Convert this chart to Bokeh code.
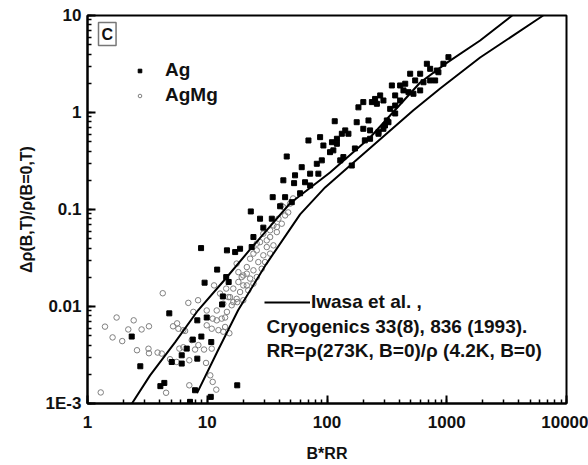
from bokeh.plotting import figure
from bokeh.models import Legend, LegendItem, Label, CustomJSTickFormatter, LogTicker
from bokeh.embed import file_html
from bokeh.resources import INLINE

# ---- data ----
ag_x = [8.88, 14.6, 17.1, 18.8, 12.1, 9.5, 15.1, 13.5, 13.3, 4.82, 2.34, 2.76, 4.06, 4.38, 5.05,
        6.12, 6.12, 6.74, 7.57, 8.26, 8.93, 9.9, 8.26, 10.8, 7.18, 10.7, 17.8, 7.91, 14.4,
        70.0, 93.3, 121, 106, 46.1, 61.5, 82.2, 90.5, 72.3, 84.7, 54.1, 43.2, 53.1, 65.6, 35.2,
        44.7, 50.8, 40.6, 23.1, 27.6, 34.6, 29.4, 24.3, 23.5,
        682, 727, 938, 852, 600, 545, 495, 639, 727, 450, 408, 348, 435, 479, 527, 371, 278,
        252, 296, 261, 237, 201, 183, 371, 337, 408, 116, 177, 222, 201, 229, 142, 151, 133,
        121, 110, 326, 296, 269, 137, 161, 113, 826, 1033, 87.6,
        59.6, 72.3, 129, 171, 207, 305, 371, 600, 800, 316, 269, 229]
ag_y = [0.040, 0.0379, 0.0364, 0.0394, 0.024, 0.0176, 0.0179, 0.0127, 0.0105, 0.0085, 0.0049,
        0.00242, 0.00151, 0.00163, 0.00268, 0.00258, 0.00314, 0.00368, 0.00456, 0.0029, 0.0049,
        0.0077, 0.0072, 0.0043, 0.00104, 0.00117, 0.00154, 0.00137, 0.0201,
        0.515, 0.457, 0.476, 0.390, 0.352, 0.273, 0.296, 0.321, 0.234, 0.234, 0.225, 0.200,
        0.187, 0.191, 0.134, 0.134, 0.119, 0.108, 0.0955, 0.0804, 0.0804, 0.065, 0.052, 0.041,
        3.18, 2.82, 3.18, 2.60, 2.51, 2.14, 2.51, 2.05, 2.14, 1.98, 1.90, 1.90, 1.69, 1.62, 1.56,
        1.50, 1.50, 1.38, 1.33, 1.23, 1.28, 1.28, 1.13, 1.18, 1.09, 1.33, 0.813, 0.794, 0.828,
        0.679, 0.654, 0.654, 0.604, 0.604, 0.536, 0.494, 0.794, 0.679, 0.604, 0.347, 0.284,
        0.407, 2.71, 3.72, 0.557,
        0.147, 0.177, 0.321, 0.426, 0.516, 0.735, 0.977, 1.69, 2.14, 0.828, 0.627, 0.536]

agmg_x = [1.29, 1.40, 1.75, 1.62, 1.95, 2.19, 2.43, 2.59, 2.83, 3.26, 3.23, 3.26, 3.85, 4.25,
          4.53, 5.18, 5.60, 6.53, 5.74, 4.89, 5.56, 7.08, 5.85, 7.08, 6.95, 8.38, 11.4, 12.8,
          14.4, 15.0, 16.5, 18.8, 20.0, 19.4, 21.4, 18.2, 17.8, 7.65, 9.9, 11.1, 12.0, 14.1,
          9.9, 10.9, 12.4, 13.6, 15.3, 14.1, 6.31, 7.42, 8.43, 9.4, 7.91, 10.9, 6.31, 4.17,
          9.77, 10.6, 11.1, 11.9,
          29.4, 33.5, 38.1, 35.7, 41.9, 39.3, 44.7, 43.2, 49.2, 27.6, 31.4, 35.7, 25.9, 29.4,
          33.5, 22.8, 26.7, 30.4, 21.4, 24.3, 28.5, 20.0, 22.8, 25.9, 18.2, 21.4, 24.3, 16.5,
          22.0, 15.5, 17.6, 20.0, 13.6, 16.0, 12.0, 14.6, 13.2, 24.3, 31.4, 38.1, 33.5, 25.9,
          47.4, 52.1, 41.5, 17.6]
agmg_y = [0.00130, 0.0062, 0.0077, 0.0048, 0.0044, 0.0058, 0.0072, 0.00354, 0.0058, 0.00625,
          0.00367, 0.0033, 0.00335, 0.0137, 0.00129, 0.00625, 0.0067, 0.0056, 0.0059, 0.00286,
          0.00268, 0.00279, 0.00368, 0.00154, 0.0109, 0.0116, 0.0165, 0.0136, 0.0153, 0.0125,
          0.0111, 0.0141, 0.0165, 0.0201, 0.0218, 0.0226, 0.0111, 0.0088, 0.0091, 0.0075,
          0.0072, 0.0077, 0.0064, 0.0059, 0.0057, 0.0055, 0.0053, 0.00615, 0.0057, 0.0045,
          0.0040, 0.0036, 0.0036, 0.00368, 0.0038, 0.00327, 0.00262, 0.00195, 0.00167, 0.00139,
          0.0563, 0.052, 0.0585, 0.0686, 0.0714, 0.0804, 0.0869, 0.106, 0.115, 0.0461, 0.041,
          0.0427, 0.0379, 0.0337, 0.0351, 0.0311, 0.0287, 0.0287, 0.0255, 0.0236, 0.0245,
          0.0209, 0.0194, 0.0201, 0.0179, 0.0165, 0.0172, 0.0153, 0.0147, 0.0125, 0.0120,
          0.0116, 0.0107, 0.0103, 0.0091, 0.0088, 0.0075, 0.0351, 0.0481, 0.066, 0.061, 0.0445,
          0.0933, 0.130, 0.11, 0.0277]

iwasa_a_x = [2.35, 3.33, 5.38, 8.38, 14.1, 22.8, 33.5, 49.2, 106, 229, 408, 600, 1007, 1900, 3520]
iwasa_a_y = [0.001, 0.00195, 0.00427, 0.00914, 0.0191, 0.0388, 0.067, 0.116, 0.241, 0.553, 1.21,
             2.04, 3.27, 5.52, 10.0]
iwasa_b_x = [8.22, 12.3, 18.1, 31.0, 59.6, 96.4, 156, 524, 881, 1900, 6030, 6380]
iwasa_b_y = [0.00128, 0.00354, 0.00914, 0.0272, 0.0891, 0.169, 0.284, 1.05, 1.77, 3.69, 9.53, 10.0]

x_tick_labels = {"0": "1", "1": "10", "2": "100", "3": "1000", "4": "10000"}
y_tick_labels = {"-3": "1E-3", "-2": "0.01", "-1": "0.1", "0": "1", "1": "10"}

FONT = "Liberation Sans"
INK = "#111111"

p = figure(width=588, height=465, x_axis_type="log", y_axis_type="log",
           x_range=(1, 10000), y_range=(0.001, 10),
           output_backend="svg", toolbar_location=None,
           min_border_left=87, min_border_right=22, min_border_top=15, min_border_bottom=62,
           background_fill_color="white", border_fill_color="white")

p.xgrid.visible = False
p.ygrid.visible = False
p.outline_line_color = "black"
p.outline_line_width = 2

for ax in (p.xaxis[0], p.yaxis[0]):
    ax.ticker = LogTicker(num_minor_ticks=10)
    ax.major_tick_in = 8
    ax.major_tick_out = 0
    ax.minor_tick_in = 4
    ax.minor_tick_out = 0
    ax.axis_line_width = 2
    ax.major_tick_line_width = 2
    ax.minor_tick_line_width = 1.5
    ax.major_label_text_font = FONT
    ax.major_label_text_font_style = "bold"
    ax.major_label_text_font_size = "17px"
    ax.major_label_text_color = INK
    ax.axis_label_text_font = FONT
    ax.axis_label_text_font_style = "bold"
    ax.axis_label_text_font_size = "16px"
    ax.axis_label_text_color = INK

p.xaxis[0].formatter = CustomJSTickFormatter(
    args=dict(labels=x_tick_labels),
    code="const k = String(Math.round(Math.log10(tick))); return labels[k] || '';")
p.yaxis[0].formatter = CustomJSTickFormatter(
    args=dict(labels=y_tick_labels),
    code="const k = String(Math.round(Math.log10(tick))); return labels[k] || '';")
p.xaxis[0].axis_label = "B*RR"
p.yaxis[0].axis_label = "Δρ(B,T)/ρ(B=0,T)"
p.xaxis[0].major_label_standoff = 12
p.xaxis[0].axis_label_standoff = 14
p.yaxis[0].major_label_standoff = 6
p.yaxis[0].axis_label_standoff = 8

r_agmg = p.scatter(agmg_x, agmg_y, marker="circle", size=5.5, line_color="#808080",
                   fill_color=None, line_width=1)
r_ag = p.scatter(ag_x, ag_y, marker="square", size=5, line_color="black", fill_color="black")
r_a = p.line(iwasa_a_x, iwasa_a_y, line_color="black", line_width=2)
r_b = p.line(iwasa_b_x, iwasa_b_y, line_color="black", line_width=2)

leg1 = Legend(items=[LegendItem(label="Ag", renderers=[r_ag]),
                     LegendItem(label="AgMg", renderers=[r_agmg])],
              location=(48, 297), glyph_width=9, glyph_height=9, label_standoff=21,
              spacing=3, padding=0, margin=0, background_fill_alpha=0, border_line_alpha=0,
              label_text_font=FONT, label_text_font_style="bold", label_text_font_size="19px",
              label_text_color=INK)
p.add_layout(leg1)

leg2 = Legend(items=[LegendItem(label="Iwasa et al. ,", renderers=[r_a])],
              location=(177, 90), glyph_width=46, glyph_height=12, label_standoff=1,
              padding=0, margin=0, background_fill_alpha=0, border_line_alpha=0,
              label_text_font=FONT, label_text_font_style="bold", label_text_font_size="19px",
              label_text_color=INK)
p.add_layout(leg2)

for txt, yy in (("Cryogenics 33(8), 836 (1993).", 76.6),
                ("RR=ρ(273K, B=0)/ρ (4.2K, B=0)", 53.3)):
    p.add_layout(Label(x=179, y=yy, x_units="screen", y_units="screen", text=txt,
                       text_baseline="middle", text_align="left", text_font=FONT,
                       text_font_style="bold", text_font_size="19px", text_color=INK))

p.add_layout(Label(x=11, y=358, x_units="screen", y_units="screen", text="C",
                   text_baseline="bottom", text_align="left", text_font=FONT,
                   text_font_style="bold", text_font_size="16px", text_color=INK,
                   border_line_color="#777777", border_line_width=1.5, padding=3))

open("out.html", "w").write(file_html(p, INLINE))
